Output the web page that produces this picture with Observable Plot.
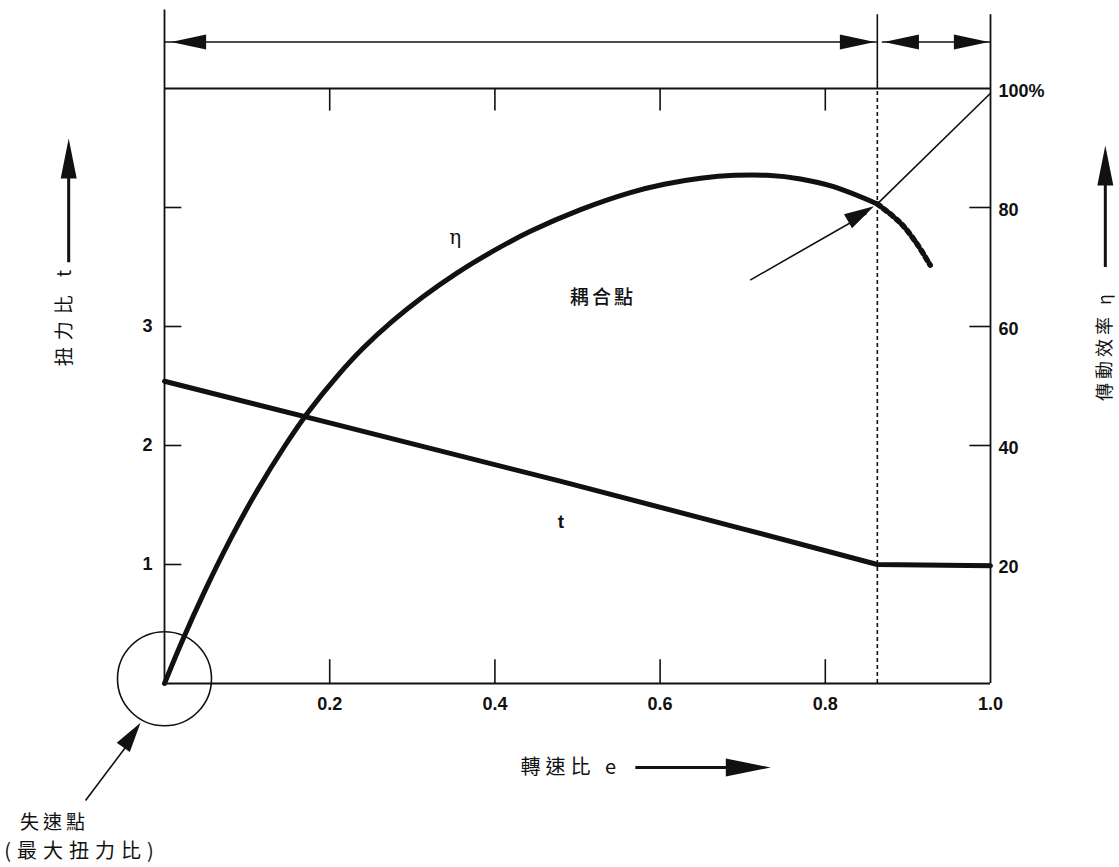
<!DOCTYPE html>
<html>
<head>
<meta charset="utf-8">
<script src="https://cdn.jsdelivr.net/npm/d3@7"></script>
<script src="https://cdn.jsdelivr.net/npm/@observablehq/plot@0.6"></script>
<style>
  html, body { margin: 0; padding: 0; background: #fff; }
  svg { display: block; }
</style>
</head>
<body>
<div id="chart"></div>
<script>
// ---- data ----
// speed ratio e (x), torque ratio t (left axis), efficiency η in % (right axis, η% = 20 * axis units)
const tE = [0, 0.2, 0.479, 0.7, 0.863, 1.0];
const tVal = [2.54, 2.19, 1.70, 1.30, 1.00, 0.99];

const etaE = [0, 0.02, 0.05, 0.08, 0.11, 0.146, 0.175, 0.21, 0.24, 0.276, 0.313, 0.353, 0.402, 0.443, 0.503, 0.564, 0.605, 0.649, 0.69, 0.73, 0.77, 0.81, 0.863];
const etaVal = [0, 6.7, 15.9, 24.3, 31.9, 40.0, 45.8, 51.8, 56.3, 60.9, 65.0, 68.9, 73.0, 76.0, 79.6, 82.5, 83.9, 84.9, 85.4, 85.4, 84.8, 83.5, 80.6];

const etaDotE = [0.863, 0.891, 0.91, 0.927];
const etaDotVal = [80.6, 77.4, 74.1, 70.3];

const couplingE = 0.863;          // 耦合點
const xTicks = [0.2, 0.4, 0.6, 0.8];
const xTickLabels = [0.2, 0.4, 0.6, 0.8, 1.0];
const tTicks = [1, 2, 3, 4];
const tTickLabels = [1, 2, 3];
const etaTickLabels = [20, 40, 60, 80, 100];

// ---- helpers ----
const toAxis = (p) => p / 20;     // η% -> left-axis units
const tRows = tE.map((e, i) => ({e, v: tVal[i]}));
const etaRows = etaE.map((e, i) => ({e, v: toAxis(etaVal[i])}));
const etaDotRows = etaDotE.map((e, i) => ({e, v: toAxis(etaDotVal[i])}));

function head(angleDeg, L, W) {
  const a = angleDeg * Math.PI / 180, c = Math.cos(a), s = Math.sin(a);
  const pts = [[0, 0], [-L, -W], [-L, W]].map(([x, y]) => [x * c - y * s, x * s + y * c]);
  return {draw(ctx) { ctx.moveTo(...pts[0]); ctx.lineTo(...pts[1]); ctx.lineTo(...pts[2]); ctx.closePath(); }};
}

const TOP = 5.39;      // level of the dimension arrows above the frame
const TOPEND = 5.66;   // top of the extension lines
const cjk = "'Noto Sans CJK TC', 'Noto Sans CJK SC', sans-serif";
const num = "'Liberation Sans', Arial, Helvetica, sans-serif";
const etaCoupling = toAxis(etaDotVal[0]);

const plot = Plot.plot({
  width: 1119,
  height: 867,
  marginLeft: 164,
  marginRight: 129,
  marginTop: 88,
  marginBottom: 184,
  x: {domain: [0, 1]},
  y: {domain: [0, 5]},
  style: {fontFamily: num, background: "#fff", color: "#111", overflow: "visible"},
  marks: [
    // frame & extension lines
    Plot.ruleX([0], {y1: 0, y2: TOPEND, strokeWidth: 1.8}),
    Plot.ruleX([1], {y1: 0, y2: 5.62, strokeWidth: 1.8}),
    Plot.ruleY([0], {x1: 0, x2: 1, strokeWidth: 1.8}),
    Plot.ruleY([5], {x1: 0, x2: 1, strokeWidth: 1.8}),
    Plot.ruleX([couplingE], {y1: 5, y2: 5.62, strokeWidth: 1.6}),
    Plot.ruleX([couplingE], {y1: 0, y2: 5, strokeWidth: 1.6, strokeDasharray: "4,3"}),
    // ticks (inward)
    Plot.ruleX(xTicks, {y1: 0, y2: 0.2, strokeWidth: 1.6}),
    Plot.ruleX(xTicks, {y1: 5, y2: 4.81, strokeWidth: 1.6}),
    Plot.ruleY(tTicks, {x1: 0, x2: 0.021, strokeWidth: 1.6}),
    Plot.ruleY(tTicks, {x1: 1, x2: 0.975, strokeWidth: 1.6}),
    // tick labels
    Plot.axisX(xTickLabels, {anchor: "bottom", tickSize: 0, tickPadding: 14, tickFormat: d3.format(".1f"), fontSize: 18, fontWeight: "bold", label: null}),
    Plot.axisY(tTickLabels, {anchor: "left", tickSize: 0, tickPadding: 12, tickFormat: d => String(d), fontSize: 18, fontWeight: "bold", label: null}),
    Plot.axisY(etaTickLabels.map(toAxis), {anchor: "right", tickSize: 0, tickPadding: 8, tickFormat: d => d === 5 ? "100%" : String(d * 20), fontSize: 18, fontWeight: "bold", label: null, dy: 3}),
    // top dimension arrows
    Plot.ruleY([TOP], {x1: 0, x2: couplingE, strokeWidth: 1.5}),
    Plot.ruleY([TOP], {x1: couplingE + 0.006, x2: 1, strokeWidth: 1.5}),
    Plot.dot([{e: 0.008}], {x: "e", y: () => TOP, symbol: head(180, 35, 7.5), fill: "#111", stroke: "none"}),
    Plot.dot([{e: couplingE - 0.003}], {x: "e", y: () => TOP, symbol: head(0, 35, 7.5), fill: "#111", stroke: "none"}),
    Plot.dot([{e: couplingE + 0.008}], {x: "e", y: () => TOP, symbol: head(180, 35, 7.5), fill: "#111", stroke: "none"}),
    Plot.dot([{e: 0.998}], {x: "e", y: () => TOP, symbol: head(0, 35, 7.5), fill: "#111", stroke: "none"}),
    // curves
    Plot.line(tRows, {x: "e", y: "v", strokeWidth: 5, stroke: "#111"}),
    Plot.line(etaRows, {x: "e", y: "v", curve: "catmull-rom", strokeWidth: 5, stroke: "#111"}),
    Plot.line(etaDotRows, {x: "e", y: "v", curve: "catmull-rom", strokeWidth: 5.5, stroke: "#111", strokeDasharray: "4,4"}),
    // coupling point annotation
    Plot.link([{}], {x1: () => 1, y1: () => 4.96, x2: () => couplingE, y2: () => etaCoupling, strokeWidth: 1.6}),
    Plot.link([{}], {x1: () => 0.709, y1: () => 3.39, x2: () => 0.85, y2: () => 3.95, strokeWidth: 1.6}),
    Plot.dot([{}], {x: () => couplingE - 0.004, y: () => etaCoupling - 0.02, symbol: head(-29.8, 30, 8), fill: "#111", stroke: "none"}),
    Plot.text(["耦合點"], {x: () => 0.531, y: () => 3.24, fontFamily: cjk, fontSize: 19, fontWeight: 500}),
    Plot.text(["η"], {x: () => 0.352, y: () => 3.75, fontFamily: "'DejaVu Serif', serif", fontSize: 20}),
    Plot.text(["t"], {x: () => 0.48, y: () => 1.36, fontFamily: num, fontSize: 19, fontWeight: "bold"}),
    // stall point
    Plot.dot([{}], {x: () => 0, y: () => 0.04, r: 47, fill: "none", stroke: "#111", strokeWidth: 1.6}),
    Plot.link([{}], {x1: () => -0.0956, y1: () => -0.983, x2: () => -0.04, y2: () => -0.47, strokeWidth: 1.6}),
    Plot.dot([{}], {x: () => -0.029, y: () => -0.33, symbol: head(-54.8, 30, 8), fill: "#111", stroke: "none"}),
    Plot.text(["失速點"], {x: () => -0.175, y: () => -1.17, textAnchor: "start", fontFamily: cjk, fontSize: 19}),
    Plot.text(["(最大扭力比)"], {x: () => -0.194, y: () => -1.41, textAnchor: "start", fontFamily: cjk, fontSize: 20}),
    // left axis title
    Plot.text(["扭力比 t"], {x: () => -0.12, y: () => 3.1, rotate: -90, fontFamily: cjk, fontSize: 19}),
    Plot.link([{}], {x1: () => -0.116, y1: () => 3.54, x2: () => -0.116, y2: () => 4.3, strokeWidth: 3}),
    Plot.dot([{}], {x: () => -0.116, y: () => 4.58, symbol: head(-90, 40, 8), fill: "#111", stroke: "none"}),
    // right axis title
    Plot.text(["傳動效率 η"], {x: () => 1.139, y: () => 2.84, rotate: -90, fontFamily: cjk, fontSize: 18}),
    Plot.link([{}], {x1: () => 1.139, y1: () => 3.5, x2: () => 1.139, y2: () => 4.25, strokeWidth: 3}),
    Plot.dot([{}], {x: () => 1.139, y: () => 4.52, symbol: head(-90, 40, 8), fill: "#111", stroke: "none"}),
    // bottom axis title
    Plot.text(["轉速比 e"], {x: () => 0.492, y: () => -0.706, fontFamily: cjk, fontSize: 20}),
    Plot.link([{}], {x1: () => 0.57, y1: () => -0.706, x2: () => 0.7, y2: () => -0.706, strokeWidth: 3}),
    Plot.dot([{}], {x: () => 0.734, y: () => -0.706, symbol: head(0, 45, 9), fill: "#111", stroke: "none"})
  ]
});

// letter spacing for the spaced-out CJK captions
const spacing = {"扭力比 t": 7, "傳動效率 η": 4, "轉速比 e": 5, "失速點": 4, "(最大扭力比)": 6, "耦合點": 3};
d3.select(plot).selectAll("text").each(function () {
  const s = spacing[this.textContent];
  if (s != null) d3.select(this).attr("letter-spacing", s);
});

document.getElementById("chart").appendChild(plot);
</script>
</body>
</html>
